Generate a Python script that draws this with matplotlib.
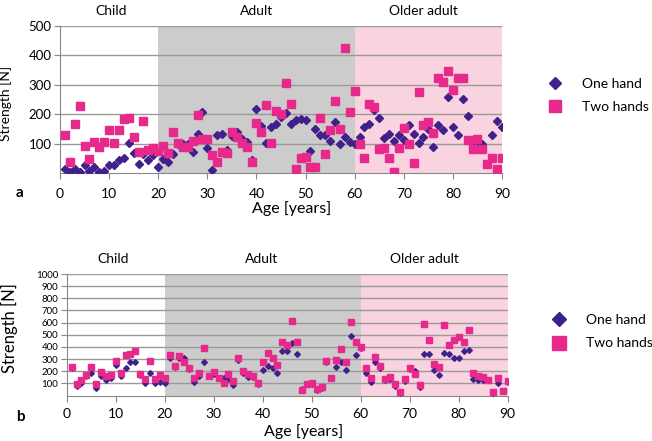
import matplotlib
matplotlib.use('Agg')
import matplotlib.pyplot as plt
import matplotlib.transforms as mtransforms
import numpy as np

plt.rcParams['font.family'] = ['Lato', 'DejaVu Sans']

# ---- data ----
ages = list(range(1, 91))

# panel a
one_hand_a = [12, 5, 12, 3, 26, 8, 20, 3, 6, 26, 26, 44, 50, 103, 68, 29, 65, 43, 60, 20,
              48, 36, 66, 100, 98, 100, 72, 134, 206, 86, 9, 130, 134, 77, 125, 140, 117, 105, 45, 218,
              160, 103, 157, 167, 190, 205, 168, 181, 182, 181, 74, 148, 128, 128, 110, 172, 97, 123, 106, 100,
              123, 155, 168, 215, 188, 119, 134, 109, 130, 111, 162, 134, 102, 123, 151, 89, 162, 145, 257, 157,
              128, 251, 195, 109, 111, 100, 30, 128, 176, 157]
two_hands_a = [128, 38, 166, 229, 92, 47, 107, 90, 107, 146, 103, 146, 182, 188, 121, 70, 178, 77, 86, 74,
               92, 69, 139, 102, 87, 87, 109, 198, 115, 117, 60, 38, 72, 67, 140, 122, 102, 87, 38, 170,
               140, 230, 102, 210, 199, 305, 234, 12, 51, 55, 21, 21, 188, 63, 145, 244, 151, 424, 206, 280,
               97, 50, 236, 223, 83, 86, 50, 4, 86, 152, 98, 33, 275, 163, 172, 135, 322, 311, 347, 281,
               322, 322, 111, 81, 115, 81, 29, 51, 13, 51]

# panel b
one_hand_b = [230, 78, 100, 160, 188, 64, 163, 128, 141, 251, 163, 224, 273, 273, 165, 105, 188, 100, 110, 100,
              306, 235, 310, 306, 215, 115, 160, 273, 160, 180, 141, 141, 135, 86, 295, 182, 155, 152, 98, 212,
              240, 224, 182, 363, 363, 428, 339, 50, 92, 95, 48, 62, 274, 140, 237, 278, 210, 492, 333, 393,
              182, 114, 278, 230, 128, 133, 78, 22, 119, 220, 202, 73, 339, 339, 210, 169, 347, 339, 306, 306,
              366, 374, 136, 128, 128, 128, 22, 100, 37, 108]
two_hands_b = [237, 95, 127, 166, 237, 93, 190, 160, 166, 285, 184, 333, 345, 367, 177, 135, 287, 135, 166, 145,
               333, 243, 325, 278, 224, 141, 188, 388, 163, 191, 147, 100, 177, 122, 306, 204, 177, 158, 105, 273,
               352, 306, 251, 443, 415, 613, 440, 45, 95, 100, 51, 67, 287, 147, 292, 380, 273, 602, 443, 402,
               229, 147, 314, 243, 136, 155, 95, 26, 136, 229, 174, 86, 590, 454, 262, 237, 580, 415, 455, 479,
               443, 542, 185, 160, 150, 130, 26, 148, 37, 116]

groups = ['Child', 'Adult', 'Older adult']
group_bounds = [(0, 20), (20, 60), (60, 90)]
group_colors = ['white', '#cccccc', '#f9d3df']

PURPLE = '#40208a'
PINK = '#e6298b'
GRID = '#9a9a9a'


def draw_panel(ax, one, two, ymax, label_x, label_y, ms_d, ms_s):
    for (lo, hi), c in zip(group_bounds, group_colors):
        ax.axvspan(lo, hi, color=c, zorder=0, lw=0)
    ax.plot(ages, one, linestyle='none', marker='D', ms=ms_d, color=PURPLE,
            label='One hand', zorder=3)
    ax.plot(ages, two, linestyle='none', marker='s', ms=ms_s, color=PINK,
            label='Two hands', zorder=4)
    ax.set_xlim(0, 90)
    ax.set_ylim(0, ymax)
    ax.set_xticks(range(0, 91, 10))
    ax.set_yticks(range(100, ymax + 1, 100))
    ax.set_axisbelow(True)
    ax.yaxis.grid(True, color=GRID, lw=1)
    for s in ['top', 'right']:
        ax.spines[s].set_visible(False)
    for s in ['left', 'bottom']:
        ax.spines[s].set_color('#888888')
    ax.tick_params(colors='#888888', labelcolor='black', length=4)
    trans = mtransforms.blended_transform_factory(ax.transData, ax.transAxes)
    for name, x in zip(groups, label_x):
        ax.text(x, label_y, name, transform=trans, ha='center', va='center', fontsize=10)


fig = plt.figure(figsize=(6.52, 4.41), dpi=100)

# panel a
ax_a = fig.add_axes([60 / 652, 1 - 173 / 441, 442 / 652, 147 / 441])
draw_panel(ax_a, one_hand_a, two_hands_a, 500, [10.5, 40, 74], 1.102, 4.1, 5.4)
ax_a.tick_params(axis='y', labelsize=9.5, pad=2)
ax_a.tick_params(axis='x', labelsize=10, pad=7)
ax_a.set_ylabel('Strength [N]', fontsize=10)
ax_a.yaxis.set_label_coords(-0.108, 0.47)
ax_a.set_xlabel('Age [years]', fontsize=11.5, va='center')
ax_a.xaxis.set_label_coords(0.523, -0.245)
ax_a.text(-0.0905, -0.136, 'a', transform=ax_a.transAxes, fontsize=11,
          fontweight='bold', ha='center', va='center')
ax_a.legend(loc='center left', bbox_to_anchor=(1.104, 0.527), frameon=False,
            borderpad=0, borderaxespad=0, handlelength=1, handletextpad=1.45,
            labelspacing=0.75, markerscale=1.6, fontsize=10)

# panel b
ax_b = fig.add_axes([66.7 / 652, 1 - 395.5 / 441, 441 / 652, 121.5 / 441])
draw_panel(ax_b, one_hand_b, two_hands_b, 1000, [9.5, 39.8, 73], 1.123, 2.9, 4.3)
ax_b.tick_params(axis='y', labelsize=7, pad=2)
ax_b.tick_params(axis='x', labelsize=10, pad=5)
ax_b.set_ylabel('Strength [N]', fontsize=12)
ax_b.yaxis.set_label_coords(-0.110, 0.551)
ax_b.set_xlabel('Age [years]', fontsize=11.5, va='center')
ax_b.xaxis.set_label_coords(0.537, -0.30)
ax_b.text(-0.106, -0.177, 'b', transform=ax_b.transAxes, fontsize=11,
          fontweight='bold', ha='center', va='center')
ax_b.legend(loc='center left', bbox_to_anchor=(1.10, 0.527), frameon=False,
            borderpad=0, borderaxespad=0, handlelength=1, handletextpad=1.45,
            labelspacing=0.85, markerscale=2.3, fontsize=10)

plt.savefig('out.png', dpi=100)
plt.close()
